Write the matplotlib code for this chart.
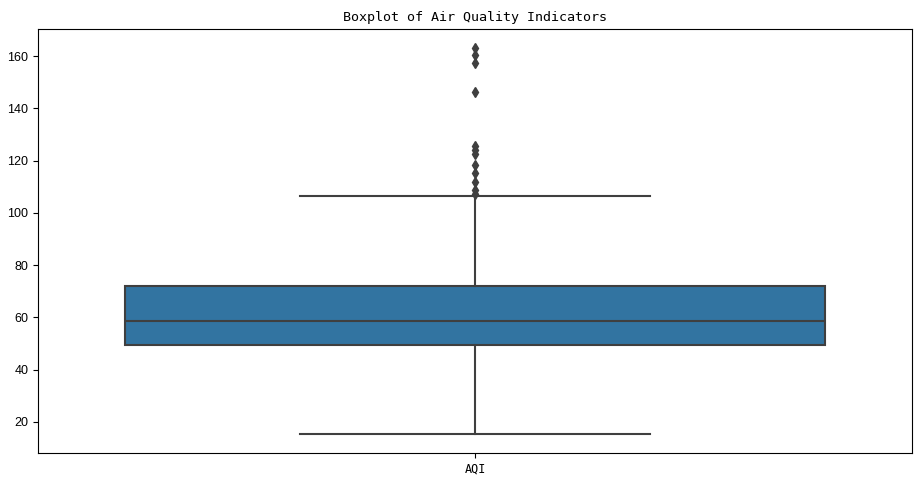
import matplotlib
matplotlib.use("Agg")
import matplotlib.pyplot as plt

# AQI box statistics
label = "AQI"
q1 = 49.4
median = 58.6
q3 = 72.0
whisker_low = 15.4
whisker_high = 106.4
outliers = [163.3, 160.3, 157.2, 146.3, 125.6, 124.0, 122.4,
            118.3, 115.1, 111.9, 108.7, 107.2]

stats = [{
    "label": label, "med": median, "q1": q1, "q3": q3,
    "whislo": whisker_low, "whishi": whisker_high, "fliers": outliers,
}]

fig = plt.figure(figsize=(9.21, 4.83), dpi=100)
ax = fig.add_axes([0.0413, 0.062, 0.949, 0.878])

line_color = "#3f3f3f"
ax.bxp(stats, positions=[0], widths=0.8, patch_artist=True,
       boxprops=dict(facecolor="#3274a1", edgecolor=line_color, linewidth=1.5),
       medianprops=dict(color=line_color, linewidth=1.5),
       whiskerprops=dict(color=line_color, linewidth=1.5),
       capprops=dict(color=line_color, linewidth=1.5),
       capwidths=0.4,
       flierprops=dict(marker="d", markerfacecolor=line_color,
                       markeredgecolor=line_color, markersize=5))

ax.set_xlim(-0.5, 0.5)
ax.set_ylim(8.1, 170.4)
ax.set_yticks([20, 40, 60, 80, 100, 120, 140, 160])
ax.tick_params(axis="y", labelsize=9)
for t in ax.get_yticklabels():
    t.set_family("Liberation Sans")
ax.set_xticks([0])
ax.set_xticklabels([label], family="DejaVu Sans Mono", fontsize=8.5)

ax.set_title("Boxplot of Air Quality Indicators", family="DejaVu Sans Mono",
             fontsize=9.6, pad=6)

fig.savefig("out.png", dpi=100)
